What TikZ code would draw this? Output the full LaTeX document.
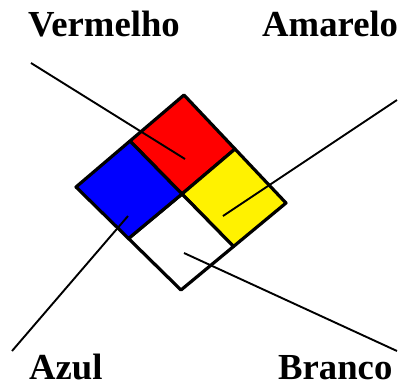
\documentclass[tikz,border=0pt]{standalone}
\usepackage{fontspec}
\setmainfont{Liberation Serif}
\usetikzlibrary{calc}
\begin{document}
\begin{tikzpicture}[x=1pt,y=-1pt,
  label/.style={font=\fontsize{36.7}{40}\selectfont\bfseries, inner sep=0pt, text depth=0pt, anchor=base west},
  quad/.style={draw=black, line width=3.2pt, line join=round},
  leader/.style={draw=black, line width=1.9pt}]
\useasboundingbox (0,0) rectangle (400,384);

% corners of the diamond and the centre
\coordinate (T) at (184,95);
\coordinate (R) at (286,203);
\coordinate (B) at (181,290);
\coordinate (L) at (76,187);
\coordinate (C) at (182,194);
% edge midpoints
\coordinate (TL) at ($(T)!0.5!(L)$);
\coordinate (TR) at ($(T)!0.5!(R)$);
\coordinate (BR) at ($(B)!0.5!(R)$);
\coordinate (BL) at ($(B)!0.5!(L)$);

% four quadrants
\filldraw[quad, fill=red]    (TL) -- (T) -- (TR) -- (C) -- cycle;
\filldraw[quad, fill=yellow] (TR) -- (R) -- (BR) -- (C) -- cycle;
\filldraw[quad, fill=white]  (C) -- (BR) -- (B) -- (BL) -- cycle;
\filldraw[quad, fill=blue]   (L) -- (TL) -- (C) -- (BL) -- cycle;

% labels
\node[label] (vermelho) at (28,36) {Vermelho};
\node[label] (amarelo)  at (262,36) {Amarelo};
\node[label] (azul)     at (29,379) {Azul};
\node[label] (branco)   at (278,379) {Branco};

% leader line ends
\coordinate (redIn)    at (185,159);
\coordinate (yellowIn) at (223,216);
\coordinate (blueIn)   at (128,216);
\coordinate (whiteIn)  at (184,253);
\coordinate (redOut)    at (31,63);
\coordinate (yellowOut) at (397,100);
\coordinate (blueOut)   at (12,351);
\coordinate (whiteOut)  at (397,351);

\draw[leader] (redOut) -- (redIn);
\draw[leader] (yellowOut) -- (yellowIn);
\draw[leader] (blueOut) -- (blueIn);
\draw[leader] (whiteOut) -- (whiteIn);
\end{tikzpicture}
\end{document}
